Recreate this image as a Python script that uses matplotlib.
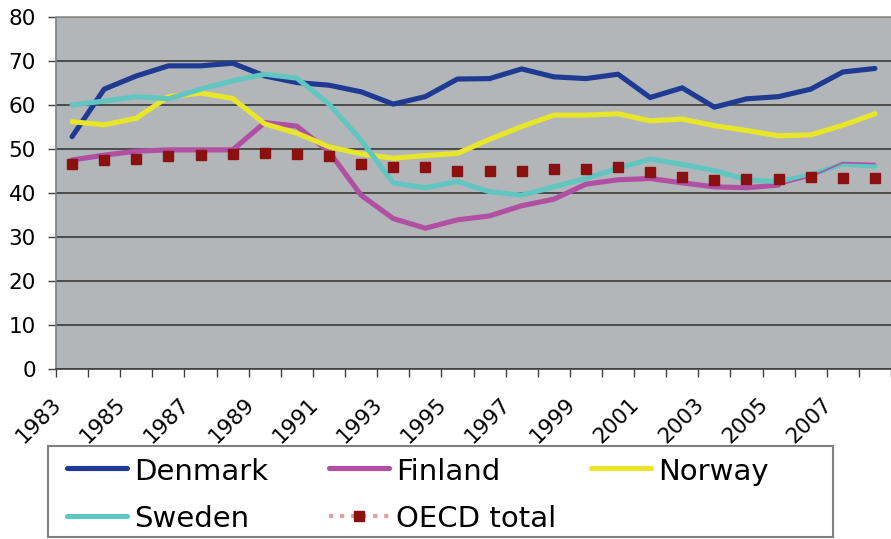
import numpy as np
import matplotlib.pyplot as plt
import matplotlib.transforms as mtransforms
from matplotlib.lines import Line2D
from matplotlib.patches import Rectangle

years = list(range(1983, 2009))

denmark = [52.8, 63.6, 66.6, 68.9, 68.9, 69.5, 66.6, 65.1, 64.5, 63.0, 60.2, 61.9, 65.9,
           66.0, 68.2, 66.4, 66.0, 67.0, 61.7, 63.9, 59.5, 61.4, 61.9, 63.6, 67.5, 68.3]
finland = [47.5, 48.6, 49.5, 49.8, 49.8, 49.8, 56.0, 55.2, 49.4, 39.5, 34.2, 32.0, 33.9,
           34.8, 37.1, 38.6, 42.0, 43.0, 43.3, 42.3, 41.4, 41.2, 41.8, 43.7, 46.9, 46.7]
norway = [56.2, 55.5, 57.0, 61.9, 62.7, 61.5, 55.7, 53.6, 50.5, 48.9, 47.9, 48.5, 49.0,
          52.2, 55.1, 57.7, 57.7, 58.0, 56.4, 56.8, 55.3, 54.2, 53.0, 53.2, 55.4, 58.0]
sweden = [60.0, 60.9, 61.9, 61.4, 63.6, 65.5, 67.0, 66.1, 60.2, 52.0, 42.3, 41.2, 42.6,
          40.3, 39.5, 41.4, 43.3, 45.6, 47.7, 46.5, 45.1, 43.0, 42.6, 44.1, 46.6, 46.1]
oecd = [46.5, 47.5, 47.7, 48.3, 48.6, 48.9, 49.2, 48.8, 48.3, 46.6, 45.8, 45.8, 45.1,
        44.9, 45.1, 45.4, 45.4, 45.8, 44.8, 43.7, 43.0, 43.1, 43.1, 43.7, 43.5, 43.3]

names = ['Denmark', 'Finland', 'Norway', 'Sweden', 'OECD total']
colors = ['#1f3a93', '#b04fa3', '#e8e62a', '#62c6c0', '#8b1010']

W, H = 891, 539

def fx(px):
    return px / W

def fy(py):
    return 1 - py / H

fig = plt.figure(figsize=(W / 100, H / 100), dpi=100)
ax = fig.add_axes([fx(56), fy(369), fx(W - 56), (369 - 17) / H])
ax.set_facecolor('#b2b6b9')
x = np.arange(len(years))

# finland goes thin from 2005 on
thin = years.index(2005)
lw = 3.7
ax.plot(x, denmark, color=colors[0], lw=lw, solid_capstyle='round', solid_joinstyle='round', zorder=3)
ax.plot(x[:thin + 1], finland[:thin + 1], color=colors[1], lw=lw, solid_capstyle='round', solid_joinstyle='round', zorder=3)
ax.plot(x, norway, color=colors[2], lw=lw, solid_capstyle='round', solid_joinstyle='round', zorder=3)
ax.plot(x, sweden, color=colors[3], lw=lw, solid_capstyle='round', solid_joinstyle='round', zorder=3)
ax.plot(x[thin:], finland[thin:], color=colors[1], lw=1.2, zorder=4)
ax.plot(x, oecd, ls='none', marker='s', ms=7.5, color=colors[4], zorder=5)

ax.set_ylim(0, 80)
ax.set_yticks(range(0, 81, 10))
ax.set_xlim(-0.5, len(years) - 0.5)
ax.grid(axis='y', color='#3a3a3a', lw=1.2)
ax.set_axisbelow(True)

ax.set_xticks(x[::2])
ax.set_xticklabels([str(y) for y in years[::2]])
ax.set_xticks(np.arange(-0.5, len(years), 1), minor=True)
ax.tick_params(axis='x', which='major', length=0, pad=18, labelsize=15.5)
ax.tick_params(axis='x', which='minor', length=6, width=1, color='#404040')
ax.tick_params(axis='y', length=6, width=1, color='#404040', pad=8.5, labelsize=15.5)
shift = mtransforms.ScaledTranslation(-0.21, 0, fig.dpi_scale_trans)
for lbl in ax.get_xticklabels():
    lbl.set_rotation(45)
    lbl.set_ha('right')
    lbl.set_rotation_mode('anchor')
    lbl.set_transform(lbl.get_transform() + shift)

ax.spines['right'].set_visible(False)
ax.spines['top'].set_color('#909090')
ax.spines['left'].set_color('#808080')
ax.spines['bottom'].set_color('#404040')
for s in ['top', 'left', 'bottom']:
    ax.spines[s].set_linewidth(1.2)

# legend box drawn by hand, excel style equal columns
fig.add_artist(Rectangle((fx(48), fy(537)), fx(833 - 48), (537 - 446) / H,
                         transform=fig.transFigure, facecolor='white', edgecolor='#808080', lw=1.5))
for i, name in enumerate(names):
    row, col = divmod(i, 3)
    x0 = 67 + col * 262
    yl = 468 + row * 48
    yb = 480 + row * 47
    if name == 'OECD total':
        fig.add_artist(Line2D([fx(x0), fx(x0 + 60)], [fy(yl), fy(yl)], transform=fig.transFigure,
                              color='#e0a0a0', lw=3, ls=':'))
        fig.add_artist(Line2D([fx(x0 + 30)], [fy(yl)], transform=fig.transFigure,
                              marker='s', ms=7.5, color=colors[i], ls='none'))
    else:
        fig.add_artist(Line2D([fx(x0), fx(x0 + 60)], [fy(yl), fy(yl)], transform=fig.transFigure,
                              color=colors[i], lw=lw, solid_capstyle='round'))
    fig.text(fx(x0 + 67), fy(yb), name, fontsize=21, va='baseline', ha='left')

fig.savefig('out.png', dpi=100)
